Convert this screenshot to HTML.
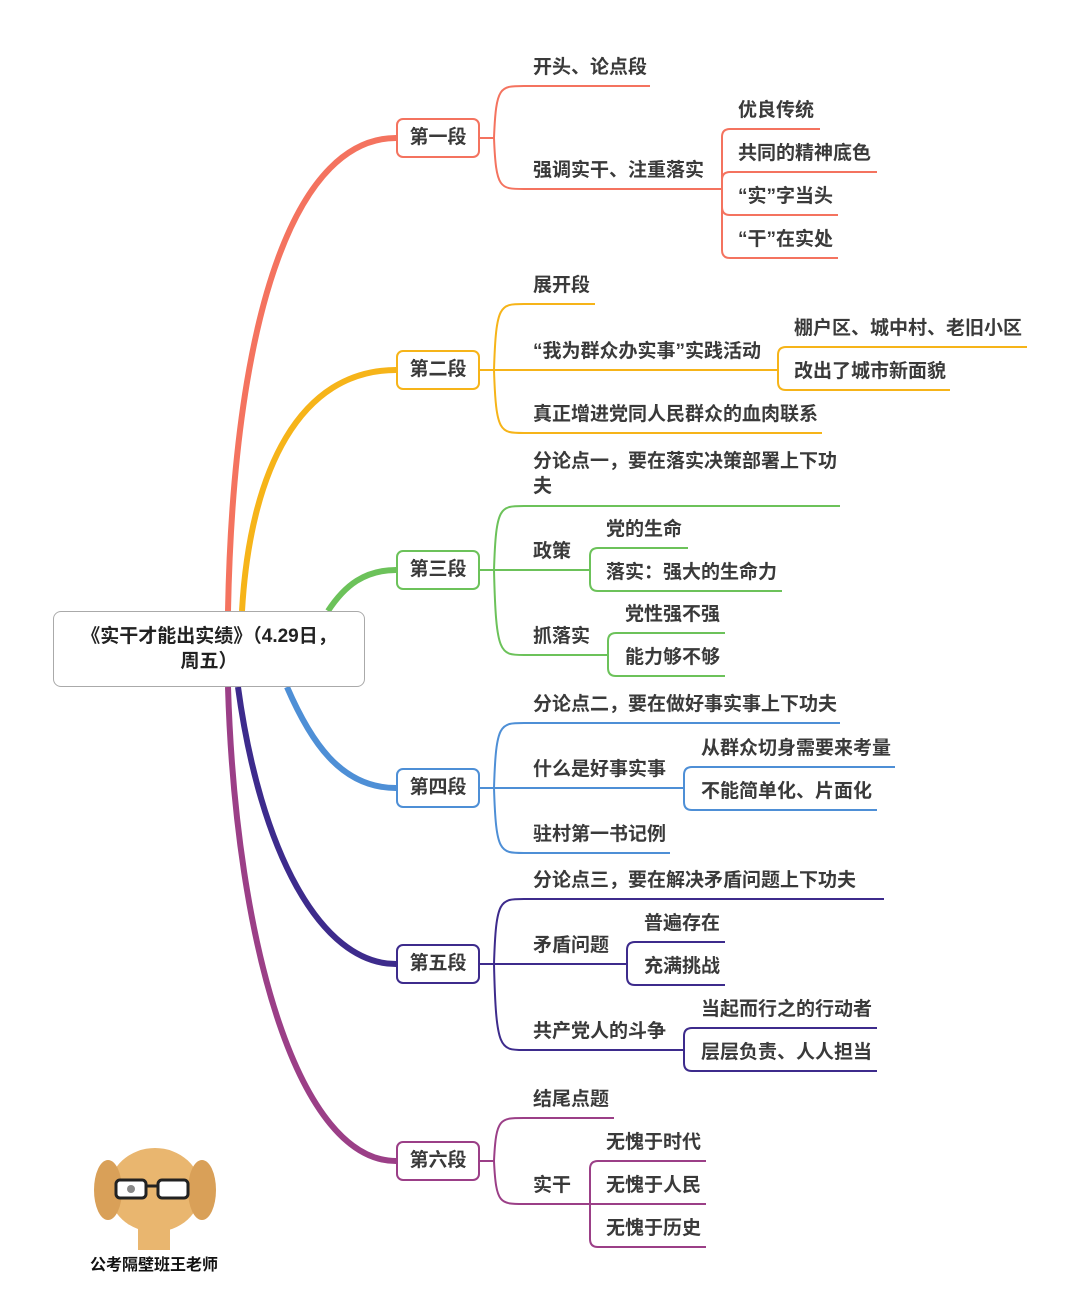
<!DOCTYPE html>
<html><head><meta charset="utf-8">
<style>
html,body{margin:0;padding:0;background:#fff;}
body{width:1080px;height:1299px;position:relative;overflow:hidden;font-family:"Liberation Sans","Noto Sans CJK SC",sans-serif;}
svg{position:absolute;left:0;top:0;}
.t{position:absolute;font-size:19px;font-weight:bold;color:#3a3a3a;white-space:nowrap;line-height:25px;}
.n{position:absolute;width:84px;height:40px;box-sizing:border-box;border:2px solid;border-radius:7px;background:#fff;font-size:19px;font-weight:bold;color:#3a3a3a;text-align:center;line-height:36px;}
.root{position:absolute;left:53px;top:611px;width:312px;height:76px;box-sizing:border-box;border:1.5px solid #aaa;border-radius:8px;background:#fff;font-size:19px;font-weight:bold;color:#222;text-align:center;line-height:25px;padding-top:12px;}
</style></head><body>
<svg id="s" width="1080" height="1299" xmlns="http://www.w3.org/2000/svg">
<path d="M228,611 C234,300 300,138 396,138" stroke="#f4735f" stroke-width="6" fill="none"/>
<path d="M242,611 C250,470 300,370 396,370" stroke="#f6b419" stroke-width="6" fill="none"/>
<path d="M328,611 C345,585 365,570 396,570" stroke="#6cc25a" stroke-width="6" fill="none"/>
<path d="M287,687 C310,740 340,788 396,788" stroke="#4e8fd6" stroke-width="6" fill="none"/>
<path d="M238,687 C260,850 320,964 396,964" stroke="#3d2b8c" stroke-width="6" fill="none"/>
<path d="M228,687 C236,950 300,1161 396,1161" stroke="#9b3f87" stroke-width="6" fill="none"/>
<g>
<ellipse cx="155" cy="1190" rx="46" ry="42" fill="#e9b66f"/>
<ellipse cx="108" cy="1190" rx="14" ry="30" fill="#d9a058"/>
<ellipse cx="202" cy="1190" rx="14" ry="30" fill="#d9a058"/>
<rect x="138" y="1225" width="32" height="25" fill="#e9b66f"/>
<rect x="116" y="1180" width="30" height="18" rx="4" fill="#fff" stroke="#222" stroke-width="3"/>
<rect x="158" y="1180" width="30" height="18" rx="4" fill="#fff" stroke="#222" stroke-width="3"/>
<line x1="146" y1="1186" x2="158" y2="1186" stroke="#222" stroke-width="3"/>
<circle cx="131" cy="1189" r="4" fill="#888"/>
</g>
</svg>
<div class="root">《实干才能出实绩》（4.29日，<br>周五）</div>
<div class="t" style="left:90px;top:1253px;font-size:16px;color:#111">公考隔壁班王老师</div>
<script>
var s=document.getElementById('s'),NS='http://www.w3.org/2000/svg';
function P(d,c){var p=document.createElementNS(NS,'path');p.setAttribute('d',d);p.setAttribute('stroke',c);p.setAttribute('stroke-width','2');p.setAttribute('fill','none');s.appendChild(p);}
function T(x,y,txt){var e=document.createElement('div');e.className='t';e.style.left=x+'px';e.style.top=y+'px';e.innerHTML=txt;document.body.appendChild(e);}
function br(px,py,bx,kids,c,r,tx){
 P('M'+px+','+py+' L'+bx+','+py,c);
 kids.forEach(function(k){
  var y=k[0],e=k[1];
  if(Math.abs(y-py)<1){P('M'+bx+','+py+' L'+e+','+y,c);}
  else if(r>10){P('M'+bx+','+py+' C'+(bx+2)+','+y+' '+(bx+6)+','+y+' '+(bx+30)+','+y+' L'+e+','+y,c);}
  else{var sg=y<py?-1:1;var rr=Math.min(r,Math.abs(y-py));
   P('M'+bx+','+py+' L'+bx+','+(y-sg*rr)+' Q'+bx+','+y+' '+(bx+rr)+','+y+' L'+e+','+y,c);}
  T(tx,y-(k[4]||31),k[2]);
  if(k[3])k[3](y,e);
 });
}
function node(cy,c,txt){var e=document.createElement('div');e.className='n';e.style.left='396px';e.style.top=(cy-20)+'px';e.style.borderColor=c;e.textContent=txt;document.body.appendChild(e);}
var R='#f4735f',O='#f6b419',G='#6cc25a',B='#4e8fd6',N='#3d2b8c',U='#9b3f87';
br(480,138,494,[[86,650,'开头、论点段'],[189,722,'强调实干、注重落实',function(y,e){br(722,y,722,[[129,820,'优良传统'],[172,877,'共同的精神底色'],[215,838,'“实”字当头'],[258,838,'“干”在实处']],R,8,738);}]],R,24,533);
br(480,370,494,[[304,595,'展开段'],[370,778,'“我为群众办实事”实践活动',function(y,e){br(778,y,778,[[347,1027,'棚户区、城中村、老旧小区'],[390,950,'改出了城市新面貌']],O,8,794);}],[433,822,'真正增进党同人民群众的血肉联系']],O,24,533);
br(480,570,494,[[506,840,'分论点一，要在落实决策部署上下功<br>夫',null,57],[570,590,'政策',function(y,e){br(590,y,590,[[548,688,'党的生命'],[591,782,'落实：强大的生命力']],G,8,606);}],[655,608,'抓落实',function(y,e){br(608,y,608,[[633,725,'党性强不强'],[676,725,'能力够不够']],G,8,625);}]],G,24,533);
br(480,788,494,[[723,840,'分论点二，要在做好事实事上下功夫'],[788,684,'什么是好事实事',function(y,e){br(684,y,684,[[767,895,'从群众切身需要来考量'],[810,877,'不能简单化、片面化']],B,8,701);}],[853,670,'驻村第一书记例']],B,24,533);
br(480,964,494,[[899,884,'分论点三，要在解决矛盾问题上下功夫'],[964,627,'矛盾问题',function(y,e){br(627,y,627,[[942,725,'普遍存在'],[985,725,'充满挑战']],N,8,644);}],[1050,684,'共产党人的斗争',function(y,e){br(684,y,684,[[1028,877,'当起而行之的行动者'],[1071,877,'层层负责、人人担当']],N,8,701);}]],N,24,533);
br(480,1161,494,[[1118,614,'结尾点题'],[1204,590,'实干',function(y,e){br(590,y,590,[[1161,706,'无愧于时代'],[1204,706,'无愧于人民'],[1247,706,'无愧于历史']],U,8,606);}]],U,24,533);
node(138,R,'第一段');node(370,O,'第二段');node(570,G,'第三段');node(788,B,'第四段');node(964,N,'第五段');node(1161,U,'第六段');
</script>
</body></html>
